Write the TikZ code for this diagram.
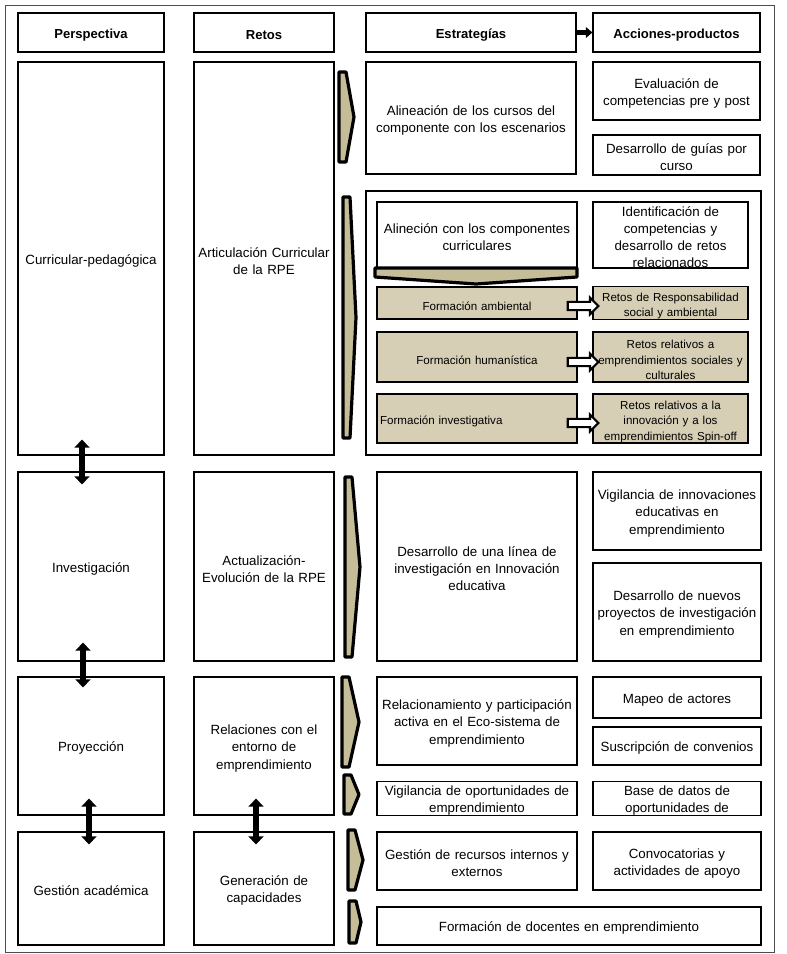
\documentclass[tikz,border=0pt]{standalone}
\usepackage{fontspec}
\setmainfont{Liberation Sans}
\usepackage{tikz}
\usetikzlibrary{arrows.meta,shapes.arrows,calc}
\definecolor{tanchev}{RGB}{196,189,151}
\definecolor{tanbox}{RGB}{214,207,181}

\begin{document}
\begin{tikzpicture}[x=0.75pt, y=-0.75pt,
    area/.style n args={4}{at={({(#1+#3)/2},{(#2+#4)/2})}, text width={(#3-#1-2)*0.75pt},
      minimum width={(#3-#1)*0.75pt}, minimum height={(#4-#2)*0.75pt}},
    caja/.style={draw, line width=0.8pt, inner sep=0pt, align=center,
      font=\fontsize{10}{12.8}\selectfont, execute at begin node={\rule{0pt}{11pt}}},
    titulo/.style={caja, font=\fontsize{9.8}{12.5}\selectfont\bfseries},
    cajatan/.style={caja, fill=tanbox, font=\fontsize{8.7}{11.7}\selectfont,
      execute at begin node={\rule{0pt}{9pt}}},
    chev/.style={draw, fill=tanchev, line width=2.4pt, line join=round},
    hueca/.style={single arrow, draw, fill=white, line width=1.6pt, inner sep=2.3pt,
      minimum height=23pt, single arrow head extend=3.2pt, single arrow head indent=0pt},
    doble/.style={line width=4pt, {Triangle[width=11pt,length=6pt]}-{Triangle[width=11pt,length=6pt]}}]
  \useasboundingbox (0,0) rectangle (787,954);
  \draw[gray!60!black, line width=0.6pt] (5,5) rectangle (774,952);

  % encabezados
  \node[titulo, area={18}{13}{164}{52}] (hPer) {Perspectiva};
  \node[titulo, area={194}{13}{334}{52}] (hRet) {Retos};
  \node[titulo, area={366}{13}{576}{52}] (hEst) {Estrategías};
  \node[titulo, area={593}{13}{760}{52}] (hAcc) {Acciones-productos};
  \draw[line width=3.5pt, -{Triangle[width=8pt,length=5pt]}] (hEst.east) -- (hAcc.west);

  % perspectivas y retos
  \node[caja, area={18}{62}{164}{455}] (perCur) {Curricular-pedagógica};
  \node[caja, area={18}{472}{164}{661}] (perInv) {Investigación};
  \node[caja, area={18}{677}{164}{815}] (perPro) {Proyección};
  \node[caja, area={18}{832}{164}{945}] (perGes) {Gestión académica};
  \node[caja, area={194}{62}{334}{455}] (retArt) {Articulación Curricular\\de la RPE};
  \node[caja, area={194}{472}{334}{661}] (retAct) {Actualización-\\Evolución de la RPE};
  \node[caja, area={194}{677}{334}{815}] (retRel) {Relaciones con el\\entorno de\\emprendimiento};
  \node[caja, area={194}{832}{334}{945}] (retGen) {Generación de\\capacidades};

  % fila curricular
  \node[caja, area={366}{62}{576}{174}] (estCur) {Alineación de los cursos del\\componente con los escenarios};
  \node[caja, area={593}{62}{760}{120}] (accEva) {Evaluación de\\competencias pre y post};
  \node[caja, area={593}{135}{760}{175}] (accGui) {Desarrollo de guías por\\curso};
  \node[caja, area={366}{191}{761}{455}] (marco) {};
  \node[caja, area={377}{202}{577}{268}] (estAli) {Alineción con los componentes\\curriculares};
  \node[caja, area={593}{202}{748}{268}] (accIde) {Identificación de\\competencias y\\desarrollo de retos\\relacionados};
  \draw[chev] (375,268) -- (577,268) -- (577,277) -- (476,284) -- (375,277) -- cycle;
  \node[cajatan, area={377}{287}{577}{319}] (formAmb) {Formación ambiental};
  \node[cajatan, area={593}{287}{748}{319}] (retAmb) {Retos de Responsabilidad\\social y ambiental};
  \node[cajatan, area={377}{332}{577}{382}] (formHum) {Formación humanística};
  \node[cajatan, area={593}{332}{748}{382}] (retHum) {Retos relativos a\\emprendimientos sociales y\\culturales};
  \node[cajatan, area={377}{394}{577}{443}, align=left] (formInv) {\hspace*{1.5pt}Formación investigativa};
  \node[cajatan, area={593}{394}{748}{443}] (retInn) {Retos relativos a la\\innovación y a los\\emprendimientos Spin-off};
  \node[hueca] (hAmb) at (581,306) {};
  \node[hueca] (hHum) at (581,362) {};
  \node[hueca] (hInv) at (581,423) {};

  % fila investigacion
  \node[caja, area={377}{472}{577}{661}] (estLin) {Desarrollo de una línea de\\investigación en Innovación\\educativa};
  \node[caja, area={593}{472}{761}{550}] (accVig) {Vigilancia de innovaciones\\educativas en\\emprendimiento};
  \node[caja, area={593}{563}{761}{661}] (accNue) {Desarrollo de nuevos\\proyectos de investigación\\en emprendimiento};

  % fila proyeccion
  \node[caja, area={377}{677}{577}{765}] (estRel) {Relacionamiento y participación\\activa en el Eco-sistema de\\emprendimiento};
  \node[caja, area={593}{677}{761}{718}] (accMap) {Mapeo de actores};
  \node[caja, area={593}{727}{761}{765}] (accSus) {Suscripción de convenios};
  \node[caja, area={377}{782}{577}{815}] (estVig) {Vigilancia de oportunidades de\\emprendimiento};
  \node[caja, area={593}{782}{761}{815}] (accBas) {Base de datos de\\oportunidades de};

  % fila gestion
  \node[caja, area={377}{832}{577}{890}] (estGes) {Gestión de recursos internos y\\externos};
  \node[caja, area={593}{832}{761}{890}] (accCon) {Convocatorias y\\actividades de apoyo};
  \node[caja, area={377}{907}{761}{945}] (estDoc) {Formación de docentes en emprendimiento};

  % flechas hacia estrategias
  \foreach \xa/\ya/\xb/\yb in {339/72/354/162, 343/197/356/438, 345/477/360/657,
      342/677/359/767, 344/775/359/814, 348/830/363/890, 349/901/361/943}
    \draw[chev] (\xa,\ya) -- (\xa+7,\ya) -- (\xb,{(\ya+\yb)/2}) -- (\xa+7,\yb) -- (\xa,\yb) -- cycle;

  % flechas dobles
  \draw[doble] ($(perCur.south)+(-9,-16)$) -- ($(perInv.north)+(-9,13)$);
  \draw[doble] ($(perInv.south)+(-8,-19)$) -- ($(perPro.north)+(-8,11)$);
  \draw[doble] ($(perPro.south)+(-2,-17)$) -- ($(perGes.north)+(-2,13)$);
  \draw[doble] ($(retRel.south)+(-8,-17)$) -- ($(retGen.north)+(-8,13)$);
\end{tikzpicture}
\end{document}
